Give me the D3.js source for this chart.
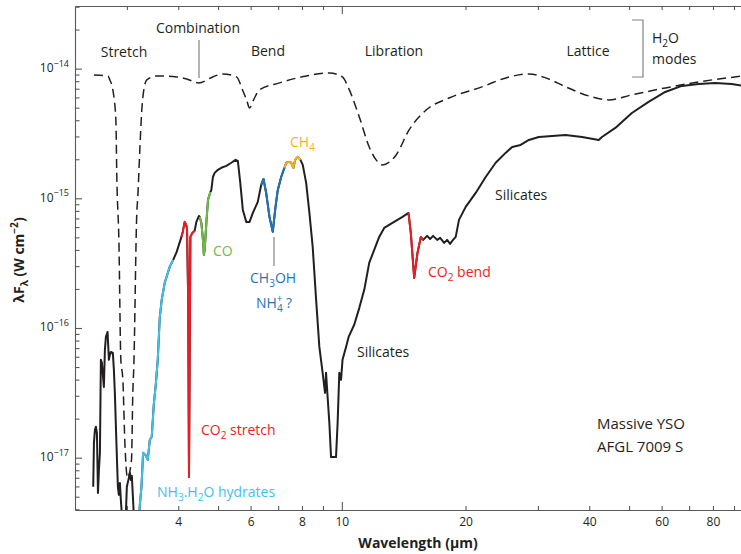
<!doctype html>
<html lang="en">
<head>
<meta charset="utf-8">
<title>AFGL 7009 S ice spectrum - D3</title>
<style>
  body { margin: 0; background: #fff; }
  svg { display: block; font-family: "Open Sans", sans-serif; }
</style>
</head>
<body>
<svg width="741" height="554"></svg>
<script src="https://cdn.jsdelivr.net/npm/d3@7"></script>
<script>
// observed spectrum (um, W cm^-2)
var wavelength = [
  2.484, 2.494, 2.508, 2.522, 2.536, 2.551, 2.565, 2.579, 2.593, 2.608, 2.622, 2.637, 2.652, 2.667, 2.692,
  2.712, 2.727, 2.742, 2.773, 2.789, 2.804, 2.831, 2.852, 2.868, 2.884, 2.900, 2.917, 2.982, 2.999, 3.033,
  3.050, 3.067, 3.084, 3.101, 3.118,
  3.216, 3.225, 3.255, 3.285, 3.329, 3.372, 3.410, 3.448, 3.487, 3.526, 3.566, 3.606, 3.646, 3.708, 3.813, 3.888,
  3.965, 4.072,
  4.102, 4.147, 4.170, 4.201, 4.229, 4.248, 4.265, 4.281, 4.329, 4.385,
  4.427, 4.492,
  4.510, 4.553, 4.593, 4.617, 4.638, 4.682, 4.725, 4.788,
  4.815, 4.858, 4.905, 4.995, 5.091, 5.235, 5.384, 5.514, 5.586, 5.661, 5.744, 5.855, 5.964, 6.075, 6.245,
  6.366, 6.448, 6.546, 6.668, 6.792, 6.897, 6.987, 7.120, 7.252,
  7.323, 7.430, 7.529, 7.627, 7.699, 7.812, 7.932,
  8.035, 8.188, 8.340, 8.495, 8.659, 8.818, 8.982, 9.103, 9.155, 9.236, 9.326, 9.414, 9.681, 9.768, 9.861,
  9.956, 10.04, 10.24, 10.39, 10.72, 11.03, 11.34, 11.66, 11.99, 12.33, 12.68, 13.28, 14.05, 14.53,
  14.72, 15.00, 15.28, 15.57, 15.77,
  16.13, 16.40, 16.68, 17.06, 17.35, 17.74, 18.04, 18.34, 18.65, 18.93, 19.28, 20.02, 21.17, 22.39, 23.68,
  25.03, 25.98, 27.23, 28.52, 30.15, 35.01, 38.42, 42.17, 42.95, 46.29, 50.78, 55.77, 61.22, 67.18, 73.8,
  80.97, 88.83, 94.8
];
var flux = [
  5.96e-18, 1.30e-17, 1.64e-17, 1.73e-17, 1.55e-17, 5.35e-18, 8.05e-18, 1.09e-17, 5.68e-17, 5.38e-17, 4.35e-17, 3.51e-17, 6.78e-17, 8.54e-17, 9.33e-17,
  5.68e-17, 6.20e-17, 6.54e-17, 6.43e-17, 4.75e-17, 3.16e-17, 1.21e-17, 5.96e-18, 5.17e-18, 6.39e-18, 4.73e-18, 3.62e-18, 3.62e-18, 5.96e-18, 6.99e-18,
  7.64e-18, 6.74e-18, 7.24e-18, 5.17e-18, 3.62e-18,
  3.62e-18, 4.33e-18, 5.96e-18, 1.09e-17, 1.05e-17, 9.62e-18, 1.37e-17, 1.45e-17, 2.55e-17, 3.64e-17, 5.68e-17, 1.20e-16, 1.65e-16, 2.23e-16, 2.96e-16, 3.35e-16,
  3.86e-16, 5.04e-16,
  5.51e-16, 6.58e-16, 6.35e-16, 5.91e-16, 1.65e-16, 7.11e-18, 6.78e-17, 5.04e-16, 5.41e-16, 5.61e-16,
  6.58e-16, 7.31e-16,
  7.19e-16, 6.46e-16, 4.78e-16, 3.66e-16, 4.00e-16, 6.46e-16, 9.72e-16, 1.12e-15,
  1.16e-15, 1.46e-15, 1.57e-15, 1.66e-15, 1.72e-15, 1.78e-15, 1.88e-15, 1.98e-15, 1.94e-15, 1.32e-15, 8.14e-16, 6.58e-16, 6.58e-16, 7.71e-16, 9.38e-16,
  1.27e-15, 1.41e-15, 1.10e-15, 7.19e-16, 5.51e-16, 8.59e-16, 1.16e-15, 1.46e-15, 1.72e-15,
  1.88e-15, 1.91e-15, 1.88e-15, 1.72e-15, 1.98e-15, 2.09e-15, 1.98e-15,
  1.81e-15, 1.32e-15, 7.71e-16, 4.22e-16, 1.65e-16, 7.15e-17, 4.51e-17, 3.16e-17, 4.51e-17, 2.94e-17, 1.85e-17, 1.01e-17, 1.01e-17, 1.85e-17, 4.51e-17,
  3.98e-17, 5.68e-17, 7.15e-17, 8.54e-17, 1.06e-16, 1.43e-16, 1.97e-16, 3.18e-16, 4.00e-16, 5.04e-16, 5.91e-16, 6.46e-16, 7.19e-16, 7.71e-16,
  5.41e-16, 2.43e-16, 3.79e-16, 5.04e-16, 4.78e-16,
  5.13e-16, 4.86e-16, 5.13e-16, 4.78e-16, 4.95e-16, 4.53e-16, 4.78e-16, 4.45e-16, 4.78e-16, 5.04e-16, 6.82e-16, 8.59e-16, 1.10e-15, 1.46e-15, 1.88e-15,
  2.24e-15, 2.49e-15, 2.58e-15, 2.82e-15, 2.97e-15, 3.08e-15, 2.97e-15, 2.82e-15, 2.97e-15, 3.49e-15, 4.55e-15, 5.54e-15, 6.61e-15, 7.36e-15, 7.62e-15,
  7.76e-15, 7.62e-15, 7.36e-15
];

// H2O ice model (dashed)
var iceWavelength = [
  2.494, 2.697, 2.727, 2.773, 2.820, 2.836, 2.868, 2.900, 2.933, 2.966, 3.010, 3.078, 3.101, 3.118, 3.171,
  3.189, 3.225, 3.261, 3.298, 3.354, 3.546, 3.965, 4.195, 4.485, 4.851, 5.129, 5.545, 5.735, 5.865, 5.964,
  6.099, 6.306, 7.051, 8.202, 9.326, 10.03, 10.43, 11.03, 11.66, 12.12, 12.54, 13.56, 14.58, 16.04, 18.24,
  21.93, 25.07, 28.52, 31.36, 35.07, 39.88, 44.6, 50.7, 61.3, 73.8, 94.8
];
var iceFlux = [
  8.94e-15, 8.78e-15, 8.18e-15, 6.85e-15, 4.02e-15, 1.39e-15, 4.78e-16, 5.68e-17, 3.98e-17, 1.30e-17, 6.99e-18, 9.62e-18, 3.16e-17, 5.01e-17, 7.71e-16,
  1.03e-15, 2.36e-15, 4.80e-15, 6.85e-15, 8.18e-15, 8.78e-15, 8.63e-15, 8.33e-15, 7.76e-15, 8.63e-15, 9.10e-15, 8.63e-15, 6.85e-15, 5.74e-15, 4.98e-15,
  5.74e-15, 6.85e-15, 7.76e-15, 8.78e-15, 9.27e-15, 8.63e-15, 6.85e-15, 4.24e-15, 2.49e-15, 1.98e-15, 1.81e-15, 2.16e-15, 3.37e-15, 4.80e-15, 5.94e-15,
  7.23e-15, 8.48e-15, 9.10e-15, 8.48e-15, 7.23e-15, 6.16e-15, 5.74e-15, 6.27e-15, 7.10e-15, 7.90e-15, 8.78e-15
];

// coloured absorption bands (wavelength ranges, um)
var bandStart = [3.216, 4.072, 4.510, 6.366, 7.252, 14.53];
var bandEnd = [3.888, 4.385, 4.788, 7.252, 7.932, 15.77];
var bandColors = ["#3fc0ef", "#ed1c24", "#6dbd45", "#1f74bb", "#f6b21c", "#ed1c24"];

var xTicks = [3, 4, 5, 6, 7, 8, 9, 10, 20, 30, 40, 50, 60, 70, 80, 90];
var xLabels = [4, 6, 8, 10, 20, 40, 60, 80];
var yLabels = [1e-17, 1e-16, 1e-15, 1e-14];

var ink = "#231f20";
var axisColor = "#58595b";

var svg = d3.select("svg");
var x = d3.scaleLog().domain([2.243, 100]).range([75, 75 + 411 * Math.log10(100 / 2.243)]);
var y = d3.scaleLog().domain([3.95e-18, 3.04e-14]).range([510, 6]);

svg.append("clipPath").attr("id", "plot")
  .append("rect").attr("x", 75).attr("y", 6).attr("width", 666).attr("height", 504);

// axes
var bottomAxis = svg.append("g")
  .attr("transform", "translate(0,510)")
  .call(d3.axisBottom(x).tickValues(xTicks).tickSizeInner(-4).tickSizeOuter(0).tickPadding(7)
    .tickFormat(d => xLabels.includes(d) ? d : ""));
bottomAxis.selectAll(".tick line").attr("y2", d => d === 10 ? -8 : -4);

var topAxis = svg.append("g")
  .attr("transform", "translate(0,6)")
  .call(d3.axisTop(x).tickValues(xTicks).tickSizeInner(-4).tickSizeOuter(0).tickFormat(""));
topAxis.selectAll(".tick line").attr("y2", d => d === 10 ? 8 : 4);

var leftAxis = svg.append("g")
  .attr("transform", "translate(75,0)")
  .call(d3.axisLeft(y).tickValues(y.ticks()).tickSizeInner(-4.5).tickSizeOuter(0).tickFormat(""));
leftAxis.selectAll(".tick line").attr("x2", d => yLabels.some(v => Math.abs(v / d - 1) < 1e-6) ? 7 : 4.5);

svg.selectAll(".domain, .tick line").attr("stroke", axisColor).attr("stroke-width", 1.1);
bottomAxis.selectAll("text").attr("font-family", "Open Sans").attr("font-size", 12).attr("fill", ink);

svg.append("g").selectAll("text").data(yLabels).enter()
  .append("text")
  .attr("x", 69)
  .attr("y", d => y(d) + 3.5)
  .attr("text-anchor", "end")
  .attr("font-size", 12)
  .attr("fill", ink)
  .each(function (d) {
    var t = d3.select(this);
    t.append("tspan").text("10");
    t.append("tspan").attr("dy", -5.5).attr("font-size", 9).text("\u2212" + Math.round(-Math.log10(d)));
  });

// rich text helper: parts are [text, "sub"|"sup"|"", dx]
function rich(sel, parts, size) {
  var shift = 0;
  parts.forEach(function (p) {
    var target = p[1] === "sub" ? 0.25 * size : p[1] === "sup" ? -0.4 * size : 0;
    var ts = sel.append("tspan").attr("dy", target - shift)
      .attr("font-size", p[1] ? size * 0.72 : size).text(p[0]);
    if (p[2]) ts.attr("dx", p[2]);
    shift = target;
  });
}

function label(px, py, parts, color, size, anchor, weight) {
  var t = svg.append("text")
    .attr("x", px).attr("y", py)
    .attr("fill", color || ink)
    .attr("text-anchor", anchor || "start")
    .attr("font-weight", weight || "normal");
  rich(t, parts, size || 14);
  return t;
}

// axis titles
label(418, 548, [["Wavelength (\u00b5m)", ""]], ink, 14, "middle", "bold");
var yTitle = label(0, 0, [["\u03bbF", ""], ["\u03bb", "sub"], [" (W cm", ""], ["\u22122", "sup"], [")", ""]], ink, 14, "middle", "bold");
yTitle.attr("transform", "translate(24,260) rotate(-90)");

// curves
var plot = svg.append("g").attr("clip-path", "url(#plot)");

var line = d3.line()
  .x(d => x(d[0]))
  .y(d => y(d[1]));

var spectrum = d3.zip(wavelength, flux);
var ice = d3.zip(iceWavelength, iceFlux);

plot.append("path")
  .datum(ice)
  .attr("d", line.curve(d3.curveMonotoneX))
  .attr("fill", "none")
  .attr("stroke", ink)
  .attr("stroke-width", 1.5)
  .attr("stroke-dasharray", "9,5");

line.curve(d3.curveLinear);

plot.append("path")
  .datum(spectrum)
  .attr("d", line)
  .attr("fill", "none")
  .attr("stroke", ink)
  .attr("stroke-width", 2)
  .attr("stroke-linejoin", "round");

plot.selectAll(".band").data(bandStart).enter()
  .append("path")
  .attr("class", "band")
  .attr("d", (s, i) => line(spectrum.filter(p => p[0] >= s - 1e-6 && p[0] <= bandEnd[i] + 1e-6)))
  .attr("fill", "none")
  .attr("stroke", (s, i) => bandColors[i])
  .attr("stroke-width", 2)
  .attr("stroke-linejoin", "round");

// annotations
var gray = "#808285";
label(124, 57, [["Stretch", ""]], ink, 14, "middle");
label(198, 33, [["Combination", ""]], ink, 14, "middle");
svg.append("line").attr("x1", 199).attr("x2", 199).attr("y1", 40).attr("y2", 78)
  .attr("stroke", gray).attr("stroke-width", 1.2);
label(268, 56, [["Bend", ""]], ink, 14, "middle");
label(394, 56, [["Libration", ""]], ink, 14, "middle");
label(588, 56, [["Lattice", ""]], ink, 14, "middle");
svg.append("path").attr("d", "M632,20H643V77H632").attr("fill", "none")
  .attr("stroke", gray).attr("stroke-width", 1.2);
label(652, 43, [["H", ""], ["2", "sub"], ["O", ""]], ink, 14);
label(652, 64, [["modes", ""]], ink, 14);

label(495, 200, [["Silicates", ""]], ink, 14);
label(357, 357, [["Silicates", ""]], ink, 14);
label(213, 256, [["CO", ""]], bandColors[2], 14);
label(290, 147, [["CH", ""], ["4", "sub"]], bandColors[4], 14);
label(250, 283, [["CH", ""], ["3", "sub"], ["OH", ""]], bandColors[3], 14);
svg.append("line").attr("x1", 274).attr("x2", 274).attr("y1", 237).attr("y2", 266)
  .attr("stroke", gray).attr("stroke-width", 1.2);
label(256, 308, [["NH", ""], ["4", "sub"], ["+", "sup", -6], [" ?", ""]], bandColors[3], 14);
label(428, 277, [["CO", ""], ["2", "sub"], [" bend", ""]], bandColors[5], 14);
label(201, 435, [["CO", ""], ["2", "sub"], [" stretch", ""]], bandColors[1], 14);
label(157, 497, [["NH", ""], ["3", "sub"], [".H", ""], ["2", "sub"], ["O hydrates", ""]], bandColors[0], 14);

label(597, 429, [["Massive YSO", ""]], ink, 15);
label(597, 452, [["AFGL 7009 S", ""]], ink, 15);
</script>
</body>
</html>
